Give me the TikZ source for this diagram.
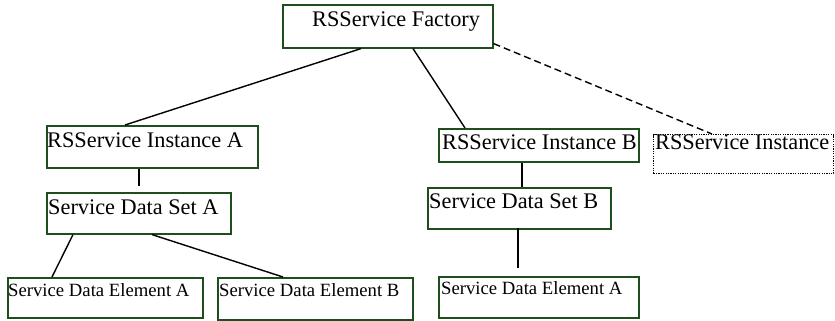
\documentclass[tikz,border=0pt]{standalone}
\usepackage{fontspec}
\setmainfont{Liberation Serif}
\usetikzlibrary{calc}
\definecolor{boxgreen}{HTML}{1E4D1E}
\tikzset{
  box/.style={draw=boxgreen, line width=1.6pt, inner sep=0pt, anchor=north west},
  ghostbox/.style={draw=black, line width=1.1pt, dash pattern=on 1.2pt off 1.2pt, inner sep=0pt, anchor=north west},
  lbl/.style={anchor=base west, inner sep=0pt, font=\fontsize{22.3}{26}\selectfont},
  smalllbl/.style={anchor=base west, inner sep=0pt, font=\fontsize{18.7}{22}\selectfont},
  link/.style={draw=black, line width=1.4pt},
  optlink/.style={draw=black, line width=1.4pt, dash pattern=on 7pt off 4pt}
}
\begin{document}
\begin{tikzpicture}[x=1pt, y=-1pt]
\useasboundingbox (0,0) rectangle (835,321);

% boxes
\node[box, minimum width=210pt, minimum height=43pt] (fac)  at (282,4)   {};
\node[box, minimum width=211pt, minimum height=42pt] (insA) at (46,125)  {};
\node[box, minimum width=200pt, minimum height=33pt] (insB) at (438,128) {};
\node[ghostbox, minimum width=180pt, minimum height=39pt] (insX) at (653,134) {};
\node[box, minimum width=184pt, minimum height=41pt] (setA) at (46,192)  {};
\node[box, minimum width=183pt, minimum height=41pt] (setB) at (427,187) {};
\node[box, minimum width=195pt, minimum height=40pt] (elA)  at (7,277)   {};
\node[box, minimum width=195pt, minimum height=42pt] (elB)  at (217,277) {};
\node[box, minimum width=200pt, minimum height=41pt] (elC)  at (438,276) {};

% labels
\node[lbl] (facT)  at (312,27)  {RSService Factory};
\node[lbl] (insAT) at (47,147)  {RSService Instance A};
\node[lbl] (insBT) at (442,149) {RSService Instance B};
\node[lbl] (insXT) at (655,149) {RSService Instance};
\node[lbl] (setAT) at (48,214)  {Service Data Set A};
\node[lbl] (setBT) at (429,208) {Service Data Set B};
\node[smalllbl] (elAT) at (8,296)   {Service Data Element A};
\node[smalllbl] (elBT) at (219,296) {Service Data Element B};
\node[smalllbl] (elCT) at (441,294) {Service Data Element A};

% connectors
\draw[link] ($(fac.south west)+(79,0)$) -- ($(insA.north west)+(79,0)$);
\draw[link] ($(fac.south west)+(131,0)$) -- ($(insB.north west)+(27,0)$);
\draw[optlink] ($(fac.south east)+(0,-5)$) -- ($(insX.north west)+(59,0)$);
\draw[link, shorten >=6pt] ($(insA.south west)+(93,0)$) -- ($(setA.north west)+(93,0)$);
\draw[link] ($(setA.south west)+(27,0)$) -- ($(elA.north west)+(45,0)$);
\draw[link] ($(setA.south west)+(106,0)$) -- ($(elB.north west)+(66,0)$);
\draw[link] ($(insB.south west)+(84,0)$) -- ($(setB.north west)+(95,0)$);
\draw[link, shorten <=-2pt, shorten >=8pt] ($(setB.south west)+(91,0)$) -- ($(elC.north west)+(80,0)$);
\end{tikzpicture}
\end{document}
